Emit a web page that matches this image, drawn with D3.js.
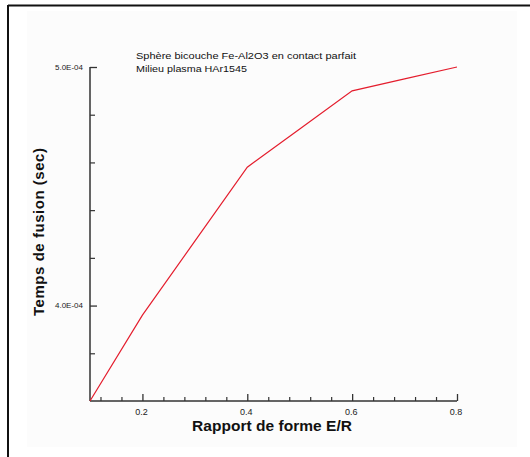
<!DOCTYPE html>
<html>
<head>
<meta charset="utf-8">
<script src="https://cdn.jsdelivr.net/npm/d3@7"></script>
<style>
  html, body { margin: 0; padding: 0; background: #ffffff; }
  svg { display: block; font-family: "Liberation Sans", Arial, sans-serif; }
</style>
</head>
<body>
<svg id="chart" width="530" height="457"></svg>
<script>
// Shape ratio E/R and melting time (s)
const ratios = [0.1, 0.2, 0.3, 0.4, 0.5, 0.6, 0.7, 0.8];
const meltTimes = [3.60e-4, 3.96e-4, 4.27e-4, 4.58e-4, 4.74e-4, 4.90e-4, 4.95e-4, 5.00e-4];

const xMajorTicks = [0.2, 0.4, 0.6, 0.8];
const yMajorTicks = [4.0e-4, 5.0e-4];
const titleLines = ["Sphère bicouche Fe-Al2O3 en contact parfait", "Milieu plasma HAr1545"];
const xTitle = "Rapport de forme E/R";
const yTitle = "Temps de fusion (sec)";

const svg = d3.select("#chart");

// frame
svg.append("rect").attr("x", 27).attr("y", 11).attr("width", 490).attr("height", 436)
  .attr("fill", "#fcfcfc");
svg.append("line").attr("x1", 8).attr("x2", 530).attr("y1", 5.5).attr("y2", 5.5)
  .attr("stroke", "#111").attr("stroke-width", 2);
svg.append("line").attr("x1", 8).attr("x2", 8).attr("y1", 5).attr("y2", 457)
  .attr("stroke", "#111").attr("stroke-width", 2);

const x = d3.scaleLinear().domain([0.1, 0.8]).range([90, 457]);
const y = d3.scaleLinear().domain([3.6e-4, 5.0e-4]).range([401, 67]);

const axisColor = "#333";

// minor ticks
const xMinor = d3.range(0.12, 0.8001, 0.04).filter(v => !xMajorTicks.some(m => Math.abs(m - v) < 1e-6));
const yMinor = d3.range(3.8e-4, 4.9e-4 + 1e-9, 0.2e-4).filter(v => !yMajorTicks.some(m => Math.abs(m - v) < 1e-9));

const fmtE = v => {
  const e = Math.floor(Math.log10(v));
  const m = v / Math.pow(10, e);
  const es = (e < 0 ? "-" : "+") + String(Math.abs(e)).padStart(2, "0");
  return m.toFixed(1) + "E" + es;
};

// x axis
const xAxis = d3.axisTop(x).tickValues(xMajorTicks).tickSize(7).tickFormat("");
const gx = svg.append("g").attr("transform", `translate(0,${y(3.6e-4)})`).call(xAxis);
gx.select(".domain").remove();
gx.selectAll(".tick line").attr("stroke", axisColor).attr("stroke-width", 1.3);
const xMin = d3.axisTop(x).tickValues(xMinor).tickSize(4).tickFormat("");
const gxm = svg.append("g").attr("transform", `translate(0,${y(3.6e-4)})`).call(xMin);
gxm.select(".domain").remove();
gxm.selectAll(".tick line").attr("stroke", axisColor).attr("stroke-width", 1.2);
svg.append("line").attr("x1", x(0.1)).attr("x2", x(0.8)).attr("y1", y(3.6e-4)).attr("y2", y(3.6e-4))
  .attr("stroke", axisColor).attr("stroke-width", 1.5);

svg.selectAll(".xlab").data(xMajorTicks).enter().append("text")
  .attr("x", d => x(d) - 1).attr("y", 414.5)
  .attr("text-anchor", "middle").attr("font-size", 9).attr("fill", "#222")
  .text(d => d.toFixed(1));

// y axis
const yAxis = d3.axisRight(y).tickValues(yMajorTicks).tickSize(7).tickFormat("");
const gy = svg.append("g").attr("transform", `translate(${x(0.1)},0)`).call(yAxis);
gy.select(".domain").remove();
gy.selectAll(".tick line").attr("stroke", axisColor).attr("stroke-width", 1.3);
const yMin = d3.axisRight(y).tickValues(yMinor).tickSize(5).tickFormat("");
const gym = svg.append("g").attr("transform", `translate(${x(0.1)},0)`).call(yMin);
gym.select(".domain").remove();
gym.selectAll(".tick line").attr("stroke", axisColor).attr("stroke-width", 1.2);
svg.append("line").attr("x1", x(0.1)).attr("x2", x(0.1)).attr("y1", y(5.0e-4)).attr("y2", y(3.6e-4))
  .attr("stroke", axisColor).attr("stroke-width", 1.5);

svg.selectAll(".ylab").data(yMajorTicks).enter().append("text")
  .attr("x", 83).attr("y", d => y(d) + 2.5)
  .attr("text-anchor", "end").attr("font-size", 7).attr("fill", "#222")
  .attr("textLength", 28).attr("lengthAdjust", "spacingAndGlyphs")
  .text(d => fmtE(d));

// curve
const line = d3.line().x((d, i) => x(ratios[i])).y(d => y(d));
svg.append("path").datum(meltTimes).attr("d", line)
  .attr("fill", "none").attr("stroke", "#e41d2d").attr("stroke-width", 1.2);

// annotation
titleLines.forEach((t, i) => {
  svg.append("text").attr("x", 136).attr("y", 59 + i * 13)
    .attr("font-size", 9).attr("fill", "#111")
    .attr("textLength", i === 0 ? 220 : 111).attr("lengthAdjust", "spacingAndGlyphs")
    .text(t);
});

// axis titles
svg.append("text").attr("x", 272).attr("y", 431)
  .attr("text-anchor", "middle").attr("font-size", 15.5).attr("font-weight", "bold")
  .attr("fill", "#111").attr("textLength", 160).attr("lengthAdjust", "spacing")
  .text(xTitle);

svg.append("text").attr("transform", "translate(44,232) rotate(-90)")
  .attr("text-anchor", "middle").attr("font-size", 15).attr("font-weight", "bold")
  .attr("fill", "#111").attr("textLength", 168).attr("lengthAdjust", "spacing")
  .text(yTitle);
</script>
</body>
</html>
